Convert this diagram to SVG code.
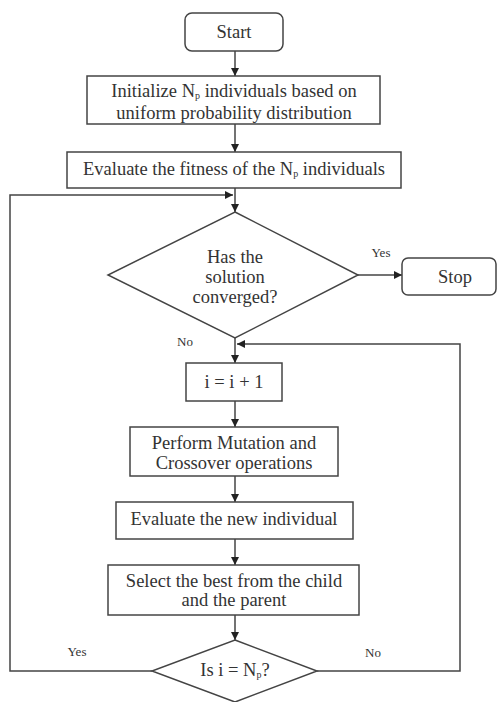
<svg xmlns="http://www.w3.org/2000/svg" width="497" height="702" viewBox="0 0 497 702" font-family="Liberation Serif, Times New Roman, DejaVu Serif, serif">
<defs>
<marker id="ah" viewBox="0 0 10 10" refX="10" refY="5" markerWidth="8" markerHeight="8" markerUnits="userSpaceOnUse" orient="auto">
<path d="M0,0 L10,5 L0,10 z" fill="#222"/>
</marker>
<style>
.box{fill:#fff;stroke:#444;stroke-width:1.5}
text{fill:#333;text-anchor:middle}
.t{font-size:18.5px}
.lbl{font-size:13px}
.sub{font-size:10px}
.c{fill:none;stroke:#444;stroke-width:1.5;marker-end:url(#ah)}
.l{fill:none;stroke:#444;stroke-width:1.5}
</style>
</defs>
<rect width="497" height="702" fill="#fff"/>
<g id="connectors">
<path class="c" d="M235,51 V76"/>
<path class="c" d="M235,124 V152"/>
<path class="l" d="M235,188 V195"/>
<path class="c" d="M235,195 V212"/>
<path class="c" d="M152,671 H10 V195 H233"/>
<path class="c" d="M358,275 H402"/>
<path class="c" d="M235,338 V363"/>
<path class="c" d="M317,671 H460 V344 H237"/>
<path class="c" d="M235,401 V427"/>
<path class="c" d="M235,476 V502"/>
<path class="c" d="M235,539 V565"/>
<path class="c" d="M235,615 V640"/>
<text class="lbl" x="381" y="257">Yes</text>
<text class="lbl" x="185" y="346">No</text>
<text class="lbl" x="77" y="656">Yes</text>
<text class="lbl" x="373" y="657">No</text>
</g>
<g id="start">
<rect class="box" x="185" y="13" width="98" height="38" rx="7"/>
<text class="t" x="234" y="38">Start</text>
</g>
<g id="init">
<rect class="box" x="87" y="76" width="293" height="48"/>
<text class="t" x="234" y="97">Initialize N<tspan class="sub" dy="2">p</tspan><tspan dy="-2"> individuals based on</tspan></text>
<text class="t" x="234" y="119">uniform probability distribution</text>
</g>
<g id="evalfit">
<rect class="box" x="67" y="152" width="334" height="36"/>
<text class="t" x="234" y="175">Evaluate the fitness of the N<tspan class="sub" dy="2">p</tspan><tspan dy="-2"> individuals</tspan></text>
</g>
<g id="converged">
<polygon class="box" points="235,212 358,275 235,338 108,275"/>
<text class="t" x="235" y="263">Has the</text>
<text class="t" x="235" y="283">solution</text>
<text class="t" x="235" y="303">converged?</text>
</g>
<g id="stop">
<rect class="box" x="402" y="258" width="94" height="37" rx="6"/>
<text class="t" x="455" y="283">Stop</text>
</g>
<g id="incr">
<rect class="box" x="186" y="363" width="96" height="38"/>
<text class="t" x="234" y="388">i = i + 1</text>
</g>
<g id="mutate">
<rect class="box" x="130" y="427" width="208" height="49"/>
<text class="t" x="234" y="449">Perform Mutation and</text>
<text class="t" x="234" y="469">Crossover operations</text>
</g>
<g id="evalnew">
<rect class="box" x="116" y="502" width="237" height="37"/>
<text class="t" x="234" y="525">Evaluate the new individual</text>
</g>
<g id="select">
<rect class="box" x="108" y="565" width="251" height="50"/>
<text class="t" x="234" y="587">Select the best from the child</text>
<text class="t" x="234" y="606">and the parent</text>
</g>
<g id="check">
<polygon class="box" points="235,640 317,671 235,702 152,671"/>
<text class="t" x="235" y="676">Is i = N<tspan class="sub" dy="2">p</tspan><tspan dy="-2">?</tspan></text>
</g>
</svg>
